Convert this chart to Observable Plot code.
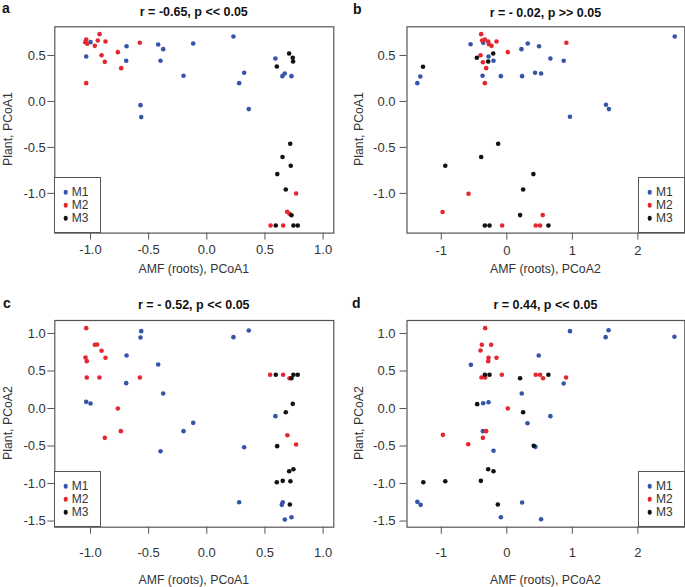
<!DOCTYPE html>
<html><head><meta charset="utf-8">
<script src="https://cdn.jsdelivr.net/npm/d3@7"></script>
<script src="https://cdn.jsdelivr.net/npm/@observablehq/plot@0.6"></script>
<style>
body{margin:0;background:#fff;font-family:"Liberation Sans",Arial,Helvetica,sans-serif;}
#root{position:relative;width:685px;height:587px;overflow:hidden;background:#fff;}
.abs{position:absolute;white-space:nowrap;line-height:1;}
.title{font-weight:bold;font-size:12.5px;color:#111;transform:translate(-50%,-50%);}
.letter{font-weight:bold;font-size:14px;color:#111;}
.axt{font-size:12.3px;color:#333;transform:translate(-50%,-50%);}
.axty{font-size:12.3px;color:#333;transform:translate(-50%,-50%) rotate(-90deg);}
.legend{position:absolute;box-sizing:border-box;border:1.2px solid #555;background:#fff;}
.ldot{position:absolute;width:4.6px;height:4.6px;border-radius:50%;transform:translate(-50%,-50%);}
.ltxt{position:absolute;font-size:12px;color:#333;transform:translateY(-50%);line-height:1;}
</style></head><body><div id="root"></div><script>
// ---- data ----
const groups = ["M1", "M2", "M3"];
const groupColors = ["#3455a8", "#e3282f", "#111111"];

const titles = ["r = -0.65, p << 0.05", "r = - 0.02, p >> 0.05", "r = - 0.52, p << 0.05", "r = 0.44, p << 0.05"];
const letters = ["a", "b", "c", "d"];
const xTitles = ["AMF (roots), PCoA1", "AMF (roots), PCoA2", "AMF (roots), PCoA1", "AMF (roots), PCoA2"];
const yTitles = ["Plant, PCoA1", "Plant, PCoA1", "Plant, PCoA2", "Plant, PCoA2"];

const xTicksPCoA1 = [-1, -0.5, 0, 0.5, 1];
const xTickLabelsPCoA1 = ["-1.0", "-0.5", "0.0", "0.5", "1.0"];
const xTicksPCoA2 = [-1, 0, 1, 2];
const xTickLabelsPCoA2 = ["-1", "0", "1", "2"];
const yTicksPlant1 = [-1, -0.5, 0, 0.5];
const yTickLabelsPlant1 = ["-1.0", "-0.5", "0.0", "0.5"];
const yTicksPlant2 = [-1.5, -1, -0.5, 0, 0.5, 1];
const yTickLabelsPlant2 = ["-1.5", "-1.0", "-0.5", "0.0", "0.5", "1.0"];

const xDomainPCoA1 = [-1.307, 1.092];
const xDomainPCoA2 = [-1.523, 2.716];
const yDomainPlant1 = [-1.432, 0.812];
const yDomainPlant2 = [-1.582, 1.173];

// panel a: x = AMF PCoA1, y = Plant PCoA1
const a_M1 = [[-1.00,0.645],[-1.037,0.489],[-0.69,0.601],[-0.693,0.442],[-0.418,0.62],[-0.375,0.569],[-0.398,0.442],[-0.117,0.63],[-0.2,0.279],[-0.57,-0.04],[-0.564,-0.17],[0.229,0.707],[0.321,0.312],[0.278,0.199],[0.361,-0.083],[0.59,0.467],[0.67,0.304],[0.65,0.275],[0.728,0.275]];
const a_M2 = [[-1.037,0.674],[-1.045,0.645],[-1.028,0.627],[-0.922,0.732],[-0.937,0.663],[-0.963,0.605],[-0.871,0.652],[-0.905,0.503],[-0.877,0.431],[-0.765,0.536],[-0.736,0.362],[-0.576,0.638],[-1.037,0.199],[0.768,-1.002],[0.691,-1.199],[0.711,-1.221],[0.548,-1.35],[0.657,-1.35]];
const a_M3 = [[0.708,0.522],[0.739,0.475],[0.742,0.435],[0.602,0.38],[0.717,-0.46],[0.651,-0.605],[0.722,-0.699],[0.606,-0.79],[0.679,-0.957],[0.728,-1.238],[0.593,-1.35],[0.745,-1.35],[0.782,-1.35]];

// panel b: x = AMF PCoA2, y = Plant PCoA1
const b_M1 = [[-1.366,0.199],[-1.32,0.272],[-0.553,0.623],[-0.36,0.638],[-0.279,0.489],[-0.203,0.442],[-0.37,0.279],[-0.091,0.275],[0.223,0.569],[0.32,0.63],[0.492,0.601],[0.233,0.275],[0.431,0.312],[0.523,0.304],[0.665,0.467],[0.868,0.442],[1.513,-0.036],[1.558,-0.083],[0.964,-0.167],[2.563,0.707]];
const b_M2 = [[-0.391,0.732],[-0.376,0.663],[-0.335,0.674],[-0.284,0.652],[-0.274,0.623],[-0.233,0.605],[-0.157,0.652],[0.015,0.536],[-0.401,0.503],[-0.365,0.427],[-0.315,0.362],[-0.335,0.199],[0.909,0.638],[-0.584,-1.004],[-0.98,-1.203],[0.548,-1.236],[-0.071,-1.35],[0.442,-1.35],[0.508,-1.35]];
const b_M3 = [[-1.279,0.377],[-0.457,0.475],[-0.208,0.522],[-0.284,0.435],[-0.132,-0.46],[-0.391,-0.605],[-0.939,-0.699],[0.406,-0.79],[0.249,-0.957],[0.203,-1.236],[-0.335,-1.35],[-0.264,-1.35],[0.635,-1.35]];

// panel c: x = AMF PCoA1, y = Plant PCoA2
const c_M1 = [[-0.564,1.031],[-0.57,0.947],[-0.69,0.707],[-0.693,0.338],[-1.037,0.089],[-1.0,0.067],[-0.418,0.587],[-0.375,0.2],[-0.398,-0.569],[-0.117,-0.191],[-0.2,-0.302],[0.229,0.951],[0.361,1.04],[0.321,-0.516],[0.278,-1.249],[0.59,-0.102],[0.653,-1.249],[0.645,-1.284],[0.728,-1.449],[0.671,-1.48]];
const c_M2 = [[-1.037,1.071],[-0.963,0.849],[-0.943,0.853],[-0.905,0.769],[-1.043,0.68],[-1.032,0.631],[-0.871,0.676],[-1.032,0.413],[-0.923,0.413],[-0.576,0.413],[-0.765,0.0],[-0.739,-0.302],[-0.877,-0.391],[0.544,0.449],[0.656,0.449],[0.711,0.404],[0.693,-0.356],[0.768,-0.48]];
const c_M3 = [[0.593,0.449],[0.745,0.449],[0.782,0.449],[0.728,0.404],[0.739,0.062],[0.679,-0.049],[0.605,-0.502],[0.745,-0.809],[0.708,-0.836],[0.653,-0.964],[0.602,-0.982],[0.719,-0.969],[0.714,-1.28]];

// panel d: x = AMF PCoA2, y = Plant PCoA2
const d_M1 = [[0.964,1.031],[0.487,0.707],[-0.548,0.582],[0.868,0.333],[0.228,0.2],[-0.361,0.071],[-0.279,0.084],[0.665,-0.102],[0.315,-0.196],[1.508,0.951],[1.553,1.044],[2.558,0.956],[-0.365,-0.302],[-0.203,-0.564],[0.437,-0.511],[-1.365,-1.244],[-1.315,-1.284],[0.234,-1.253],[-0.091,-1.449],[0.523,-1.476]];
const d_M2 = [[-0.33,1.071],[-0.381,0.849],[-0.239,0.849],[-0.401,0.773],[-0.279,0.676],[-0.284,0.631],[-0.157,0.676],[-0.386,0.413],[-0.33,0.413],[-0.076,0.449],[0.442,0.449],[0.508,0.449],[0.553,0.404],[0.904,0.413],[0.015,0.0],[-0.315,-0.302],[-0.365,-0.391],[-0.975,-0.351],[-0.589,-0.476]];
const d_M3 = [[-0.335,0.449],[-0.264,0.449],[0.203,0.404],[0.635,0.449],[-0.452,0.058],[0.249,-0.049],[0.411,-0.498],[-0.284,-0.809],[-0.203,-0.836],[-0.396,-0.964],[-0.939,-0.969],[-1.274,-0.982],[-0.137,-1.28]];

// ---- layout ----
const root = document.getElementById("root");
function rowsOf(sets) {
  const out = [];
  sets.forEach((s, gi) => s.forEach(([x, y]) => out.push({x, y, g: groups[gi]})));
  return out;
}
const panels = [
  {left:0, top:0, w:342, h:293, ml:54.3, mr:8.7, mt:26.3, mb:60.4, xd:xDomainPCoA1, yd:yDomainPlant1, xt:xTicksPCoA1, xl:xTickLabelsPCoA1, yt:yTicksPlant1, yl:yTickLabelsPlant1, xPad:5, yPad:2, data:[a_M1,a_M2,a_M3], leg:"left", titleY:12, letterX:2, letterY:1, xTitleY:269, yTitleX:7.5},
  {left:340, top:0, w:345, h:293, ml:66.5, mr:0.7, mt:26.3, mb:60.4, xd:xDomainPCoA2, yd:yDomainPlant1, xt:xTicksPCoA2, xl:xTickLabelsPCoA2, yt:yTicksPlant1, yl:yTickLabelsPlant1, xPad:6, yPad:4.5, data:[b_M1,b_M2,b_M3], leg:"right", titleY:12.5, letterX:353, letterY:2, xTitleY:269, yTitleX:358.5},
  {left:0, top:295, w:342, h:292, ml:54.3, mr:8.7, mt:25, mb:60.3, xd:xDomainPCoA1, yd:yDomainPlant2, xt:xTicksPCoA1, xl:xTickLabelsPCoA1, yt:yTicksPlant2, yl:yTickLabelsPlant2, xPad:13.5, yPad:2, data:[c_M1,c_M2,c_M3], leg:"left", titleY:305, letterX:3, letterY:296, xTitleY:580, yTitleX:7.5},
  {left:340, top:295, w:345, h:292, ml:66.5, mr:0.7, mt:25, mb:60.3, xd:xDomainPCoA2, yd:yDomainPlant2, xt:xTicksPCoA2, xl:xTickLabelsPCoA2, yt:yTicksPlant2, yl:yTickLabelsPlant2, xPad:13.5, yPad:4.5, data:[d_M1,d_M2,d_M3], leg:"right", titleY:305, letterX:352, letterY:296, xTitleY:579.5, yTitleX:358.5}
];

function addText(cls, txt, x, y) {
  const el = document.createElement("div");
  el.className = "abs " + cls;
  el.textContent = txt;
  el.style.left = x + "px";
  el.style.top = y + "px";
  root.appendChild(el);
  return el;
}

panels.forEach((p, i) => {
  const xt = p.xt, xl = p.xl, yt = p.yt, yl = p.yl;
  const svg = Plot.plot({
    width: p.w, height: p.h,
    marginLeft: p.ml, marginRight: p.mr, marginTop: p.mt, marginBottom: p.mb,
    x: {domain: p.xd},
    y: {domain: p.yd},
    color: {domain: groups, range: groupColors},
    style: {fontFamily: '"Liberation Sans", Arial, Helvetica, sans-serif', fontSize: "13px", color: "#333", background: "transparent", overflow: "visible"},
    marks: [
      Plot.axisX({ticks: xt, tickFormat: d => xl[xt.indexOf(d)], tickSize: 7, tickPadding: p.xPad, label: null, stroke: "#555", fontSize: 13}),
      Plot.axisY({ticks: yt, tickFormat: d => yl[yt.indexOf(d)], tickSize: 7, tickPadding: p.yPad, label: null, stroke: "#555", fontSize: 13}),
      Plot.dot(rowsOf(p.data), {x: "x", y: "y", fill: "g", r: 2.3}),
      Plot.frame({stroke: "#555", strokeWidth: 1.2})
    ]
  });
  svg.style.position = "absolute";
  svg.style.left = p.left + "px";
  svg.style.top = p.top + "px";
  root.appendChild(svg);

  const fx0 = p.left + p.ml, fx1 = p.left + p.w - p.mr;
  const fy0 = p.top + p.mt, fy1 = p.top + p.h - p.mb;
  const cx = (fx0 + fx1) / 2, cy = (fy0 + fy1) / 2;

  addText("title", titles[i], cx, p.titleY);
  addText("letter", letters[i], p.letterX, p.letterY);
  addText("axt", xTitles[i], cx, p.xTitleY);
  addText("axty", yTitles[i], p.yTitleX, cy);

  // legend
  const lw = 47, lh = 56.5;
  const lx = p.leg === "left" ? fx0 - 0.6 : fx1 - lw + 0.6;
  const ly = fy1 - lh + 0.6;
  const box = document.createElement("div");
  box.className = "legend";
  box.style.left = lx + "px"; box.style.top = ly + "px";
  box.style.width = lw + "px"; box.style.height = lh + "px";
  root.appendChild(box);
  groups.forEach((g, k) => {
    const ry = ly + 15.5 + k * 13;
    const dot = document.createElement("div");
    dot.className = "ldot";
    dot.style.left = (lx + 12) + "px"; dot.style.top = ry + "px";
    dot.style.background = groupColors[k];
    root.appendChild(dot);
    const t = document.createElement("div");
    t.className = "ltxt";
    t.textContent = g;
    t.style.left = (lx + 18) + "px"; t.style.top = ry + "px";
    root.appendChild(t);
  });
});
</script></body></html>
